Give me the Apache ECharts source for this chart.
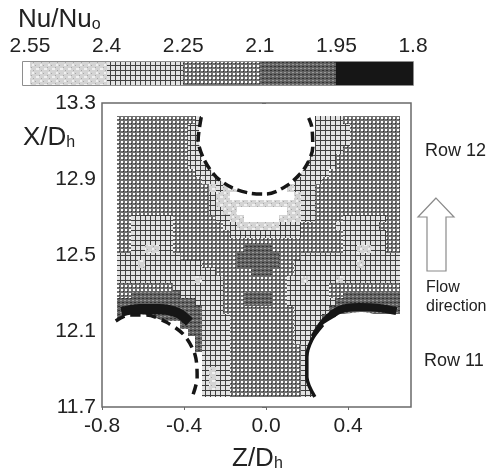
<!DOCTYPE html>
<html><head><meta charset="utf-8">
<style>html,body{margin:0;padding:0;background:#fff}#c{width:491px;height:474px;filter:blur(0.45px)}</style>
<script src="https://cdn.jsdelivr.net/npm/echarts@6/dist/echarts.min.js"></script>
</head><body><div id="c"></div>
<script>
// Legend: band edges (Nu/Nu0) and the level drawn in each band
const legendEdges = [2.5637, 2.55, 2.4, 2.25, 2.1, 1.95, 1.8];
const legendLevels = [0, 1, 2, 3, 4, 5];
const legendTicks = [2.55, 2.4, 2.25, 2.1, 1.95, 1.8];
const zTicks = [-0.8, -0.4, 0.0, 0.4];
const xTicks = [11.7, 12.1, 12.5, 12.9, 13.3];
// Field grid
const zStart = -0.728, zStep = 0.0345;
const xStart = 13.232, xStep = 0.04;
// Band level by row (top to bottom), run-length coded as level:count. "." = no data
const fieldRows = [
"3:11 2:1 .:16 2:4 3:8",
"3:10 2:2 .:16 2:5 3:7",
"3:10 2:2 .:16 2:5 3:7",
"3:10 2:2 .:16 2:5 3:7",
"3:10 2:2 .:16 2:4 3:8",
"3:10 2:2 .:15 2:4 3:9",
"3:10 2:3 .:13 2:5 3:9",
"3:11 2:3 .:12 2:4 3:10",
"3:12 2:3 .:10 2:4 3:11",
"3:13 1:1 2:1 1:2 .:7 1:1 2:3 3:12",
"3:13 2:1 1:2 0:9 1:1 2:2 3:12",
"3:13 2:1 1:12 2:2 3:12",
"3:13 2:2 1:2 0:7 1:2 2:2 3:12",
"3:2 2:6 3:6 2:2 1:2 0:5 1:3 2:2 3:4 2:6 3:2",
"3:2 2:6 3:7 2:2 1:6 2:3 3:5 2:6 3:3",
"3:2 2:6 3:8 2:10 3:6 2:6 3:2",
"3:2 2:6 3:24 2:6 3:2",
"3:2 2:2 1:2 2:2 3:10 4:4 3:10 2:2 1:2 2:2 3:2",
"2:9 3:8 4:6 3:3 2:14",
"2:3 1:1 2:8 3:5 4:6 3:2 2:9 1:1 2:5",
"2:14 3:5 4:3 3:3 2:15",
"2:11 1:1 2:3 3:9 2:2 1:1 2:4 1:1 2:8",
"3:8 2:7 3:9 2:6 3:10",
"3:2 4:7 2:6 3:3 4:4 3:2 2:6 3:2 4:8",
"4:11 2:4 3:3 4:4 3:2 2:7 4:9",
"4:12 2:3 3:10 2:5 4:10",
"4:12 2:4 3:9 2:4 4:2 .:9",
".:9 4:3 2:4 3:9 2:4 .:11",
".:10 4:2 2:4 3:9 2:3 .:12",
".:11 4:1 2:4 3:9 2:3 .:12",
".:11 4:1 2:4 3:10 2:2 .:12",
".:12 2:4 3:10 2:2 .:12",
".:12 2:4 3:10 2:2 .:12",
".:12 2:1 1:1 2:2 3:10 2:2 .:12",
".:12 2:1 1:1 2:2 3:10 2:2 .:12",
".:12 2:1 1:1 2:2 3:10 2:2 .:12",
".:12 2:4 3:10 2:2 .:12"
];
// Tube outlines [Z/Dh, X/Dh]
const tubeTop = [[-0.316,13.226],[-0.331,13.105],[-0.301,13.0],[-0.243,12.911],[-0.164,12.853],[-0.081,12.826],[0.002,12.821],[0.105,12.868],[0.189,12.958],[0.228,13.068],[0.223,13.174],[0.208,13.221]];
const tubeLeft = [[-0.733,12.153],[-0.669,12.184],[-0.586,12.184],[-0.488,12.147],[-0.4,12.079],[-0.346,11.974],[-0.336,11.853],[-0.36,11.753]];
const tubeRightLine = [[0.238,11.753],[0.199,11.858],[0.199,11.963],[0.223,12.053],[0.277,12.132]];
const tubeRight = [[0.238,11.753],[0.199,11.858],[0.199,11.963],[0.223,12.053],[0.277,12.132],[0.36,12.184],[0.458,12.2],[0.507,12.195],[0.59,12.168],[0.645,12.168]];
// Lowest band (1.95-1.8) hugging the two lower tubes
const blackLeft = [[-0.705,12.2],[-0.618,12.216],[-0.52,12.216],[-0.43,12.195],[-0.374,12.147]];
const blackRight = [[0.236,12.068],[0.285,12.147],[0.358,12.211],[0.455,12.226],[0.553,12.221],[0.636,12.205]];
const tubeTopFill = tubeTop.concat([[0.208,13.27],[-0.316,13.27]]);
const tubeLeftFill = tubeLeft.concat([[-0.74,11.74]]);
const tubeRightFill = tubeRight.concat([[0.66,12.168],[0.66,11.74],[0.238,11.74]]);

function tile(w, h, draw){const c=document.createElement('canvas');c.width=w;c.height=h;draw(c.getContext('2d'));return {image:c,repeat:'repeat'};}
const fills = {
 0:'#ffffff',
 1:tile(8,8,g=>{g.fillStyle='#d4d4d4';g.fillRect(0,0,8,8);g.fillStyle='#f0f0f0';g.fillRect(0,0,2,2);g.fillRect(4,4,3,2);g.fillStyle='#a8a8a8';g.fillRect(3,1,1,1);g.fillRect(7,3,1,1);g.fillRect(1,6,1,1);}),
 2:tile(5,5,g=>{g.fillStyle='#e2e2e2';g.fillRect(0,0,5,5);g.fillStyle='#404040';g.fillRect(0,0,5,1);g.fillRect(0,0,1,5);}),
 3:tile(4,4,g=>{g.fillStyle='#707070';g.fillRect(0,0,4,4);g.fillStyle='#ffffff';g.fillRect(1,1,2,2);g.fillStyle='#303030';g.fillRect(3,3,1,1);}),
 4:tile(4,4,g=>{g.fillStyle='#626262';g.fillRect(0,0,4,4);g.fillStyle='#989898';g.fillRect(0,0,2,1);g.fillStyle='#333';g.fillRect(2,2,2,1);}),
 5:'#161616'
};
const fieldData = [];
fieldRows.forEach((row,r)=>{let c=0;row.split(' ').forEach(run=>{const [lv,n]=run.split(':');for(let i=0;i<+n;i++,c++){if(lv!=='.')fieldData.push([zStart+c*zStep,xStart-r*xStep,+lv]);}});});
const legendData = legendLevels.map((lv,i)=>[legendEdges[i],legendEdges[i+1],lv]);
const txt='#222', spine='#6a6a6a', font='Liberation Sans';
const label=(x,y,t,size)=>({left:x,top:y,text:t,padding:0,textStyle:{fontFamily:font,fontWeight:'normal',fontSize:size,color:txt,lineHeight:size+3,rich:{m:{fontFamily:font,fontSize:size,color:txt},s:{fontFamily:font,fontSize:Math.round(size*0.6),color:txt,padding:[10,0,0,0]}}}});
const polygon=(pts,zlev)=>({type:'custom',coordinateSystem:'cartesian2d',xAxisIndex:0,yAxisIndex:0,silent:true,z:zlev,data:[0],clip:true,
  renderItem:(p,api)=>({type:'polygon',shape:{points:pts.map(q=>api.coord(q)),smooth:0.2},style:{fill:'#fff',stroke:null}})});
const outline=(pts,dash,w,zz)=>({type:'line',xAxisIndex:0,yAxisIndex:0,data:pts,showSymbol:false,smooth:0.3,silent:true,z:zz,lineStyle:{color:'#161616',width:w,type:dash,cap:'butt'}});

const chart=echarts.init(document.getElementById('c'),null,{renderer:'canvas'});
chart.setOption({
 backgroundColor:'#fff',animation:false,
 title:[
  label(18,5,'{m|Nu/Nu}{s|o}',26),
  label(23,123,'{m|X/D}{s|h}',26),
  label(232,444,'{m|Z/D}{s|h}',26),
  label(425,141,'Row 12',18),
  label(424,351,'Row 11',18),
  label(426,278,'Flow\ndirection',16)
 ],
 grid:[
  {left:102,right:80,top:103,bottom:67,show:true,borderColor:spine,borderWidth:1.5,backgroundColor:'#fff'},
  {left:23,right:78,top:62,height:23,show:true,borderColor:spine,borderWidth:1.5}
 ],
 xAxis:[
  {type:'value',gridIndex:0,min:-0.8,max:0.707,splitLine:{show:false},axisLine:{show:false},
   axisTick:{length:3,lineStyle:{color:spine},customValues:zTicks},
   axisLabel:{customValues:zTicks,formatter:v=>v.toFixed(1),fontFamily:font,fontSize:21,color:txt,margin:9}},
  {type:'value',gridIndex:1,inverse:true,position:'top',min:1.8,max:2.5637,splitLine:{show:false},axisLine:{show:false},axisTick:{show:false},
   axisLabel:{customValues:legendTicks,formatter:v=>String(+v.toFixed(2)),fontFamily:font,fontSize:21,color:txt,margin:5}}
 ],
 yAxis:[
  {type:'value',gridIndex:0,min:11.7,max:13.3,splitLine:{show:false},axisLine:{show:false},
   axisTick:{length:4,lineStyle:{color:spine},customValues:xTicks},
   axisLabel:{customValues:xTicks,formatter:v=>v.toFixed(1),fontFamily:font,fontSize:21,color:txt,margin:6}},
  {type:'value',gridIndex:1,min:0,max:1,show:false}
 ],
 graphic:[{type:'polygon',shape:{points:[[436,198],[418,217],[427,217],[427,271],[446,271],[446,217],[454,217]]},style:{fill:'#fff',stroke:'#8a8a8a',lineWidth:1.2}}],
 series:[
  {type:'custom',coordinateSystem:'cartesian2d',xAxisIndex:1,yAxisIndex:1,silent:true,data:legendData,encode:{x:[0,1]},
   renderItem:(p,api)=>{const a=api.coord([api.value(0),1]),b=api.coord([api.value(1),0]);
     return {type:'rect',shape:{x:Math.round(a[0]),y:a[1],width:Math.round(b[0])-Math.round(a[0]),height:b[1]-a[1]},style:{fill:fills[api.value(2)]}};}},
  {type:'custom',coordinateSystem:'cartesian2d',xAxisIndex:0,yAxisIndex:0,silent:true,z:2,data:fieldData,encode:{x:0,y:1},
   renderItem:(p,api)=>{const z=api.value(0),x=api.value(1),a=api.coord([z,x]),b=api.coord([z+zStep,x-xStep]);
     const l=Math.round(a[0]),t=Math.round(a[1]);
     return {type:'rect',shape:{x:l,y:t,width:Math.round(b[0])-l,height:Math.round(b[1])-t},style:{fill:fills[api.value(2)]}};}},
  outline(blackLeft,'solid',10,5),outline(blackRight,'solid',8,5),
  polygon(tubeTopFill,6),polygon(tubeLeftFill,6),polygon(tubeRightFill,6),
  outline(tubeTop,[10,5],3.5,7),outline(tubeLeft,[10,6],3.5,7),outline(tubeRightLine,'solid',3.5,7)
 ]
});
</script></body></html>
